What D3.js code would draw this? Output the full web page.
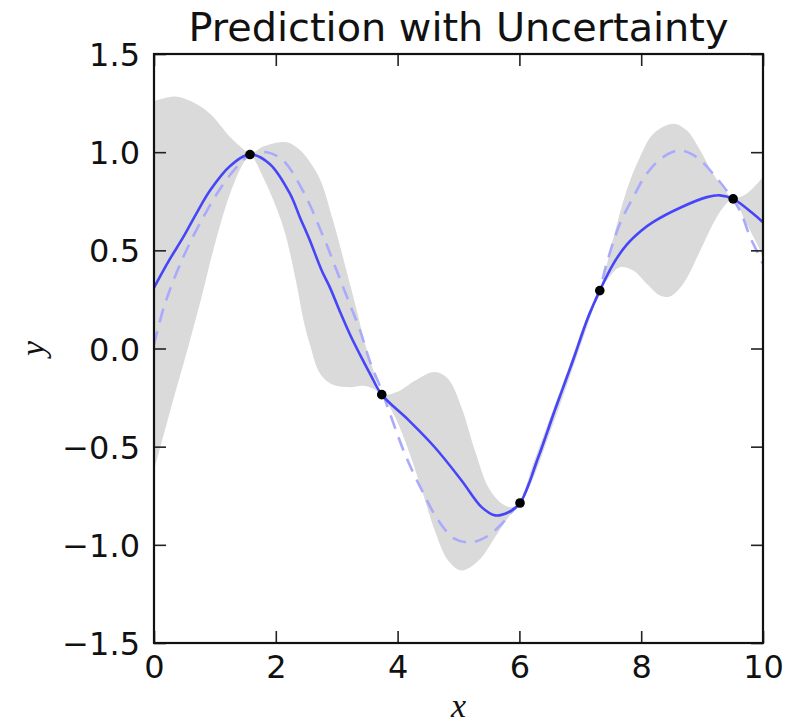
<!DOCTYPE html>
<html>
<head>
<meta charset="utf-8">
<script src="https://cdn.jsdelivr.net/npm/d3@7"></script>
<style>
  html, body { margin: 0; padding: 0; background: #ffffff; }
  svg { display: block; }
</style>
</head>
<body>
<svg id="chart" width="812" height="725"></svg>
<script>
// Observed samples
const obsX = [1.576, 3.74, 6.01, 7.32, 9.51];
const obsY = [0.988, -0.235, -0.787, 0.295, 0.762];

// Predicted mean
const meanX = [0.0, 0.25, 0.48, 0.7, 0.92, 1.25, 1.576, 1.9, 2.23, 2.4, 2.56, 2.75, 2.89, 3.05, 3.22, 3.38, 3.55, 3.74,
               4.18, 4.61, 5.05, 5.38, 5.6, 5.82, 6.01, 6.31, 6.58, 6.86, 7.13, 7.32, 7.54, 7.76,
               8.0, 8.2, 8.64, 9.08, 9.29, 9.51, 9.84, 10.0];
const meanY = [0.31, 0.45, 0.567, 0.69, 0.805, 0.93, 0.988, 0.94, 0.79, 0.665, 0.55, 0.40, 0.31, 0.19, 0.07, -0.03, -0.13, -0.235,
               -0.365, -0.503, -0.672, -0.808, -0.85, -0.834, -0.787, -0.554, -0.316, -0.078, 0.16, 0.295, 0.43, 0.528,
               0.6, 0.645, 0.717, 0.771, 0.78, 0.762, 0.686, 0.643];

// Underlying function
const trueX = [0.0, 0.18, 0.48, 0.81, 1.14, 1.41, 1.576, 1.85, 2.12, 2.45, 2.78, 3.0, 3.19, 3.38, 3.55, 3.74, 3.85,
               4.12, 4.4, 4.67, 4.94, 5.22, 5.49, 5.71, 5.88, 6.01, 6.31, 6.58, 6.86, 7.13, 7.32, 7.43,
               7.65, 7.87, 8.09, 8.36, 8.64, 8.91, 9.18, 9.4, 9.62, 9.79, 9.95, 10.0];
const trueY = [0.02, 0.228, 0.465, 0.669, 0.839, 0.941, 0.985, 1.0, 0.958, 0.80, 0.57, 0.397, 0.245, 0.095, -0.07, -0.215, -0.31,
               -0.537, -0.723, -0.876, -0.97, -0.987, -0.953, -0.893, -0.83, -0.787, -0.554, -0.316, -0.078, 0.16, 0.30, 0.43,
               0.635, 0.771, 0.89, 0.975, 1.009, 0.975, 0.89, 0.805, 0.703, 0.567, 0.465, 0.43];

// Confidence band, upper edge
const upperX = [0.0, 0.345, 0.6, 0.92, 1.25, 1.45, 1.576, 1.8, 2.18, 2.4, 2.56, 2.73, 2.94, 3.16, 3.33, 3.46, 3.6, 3.74,
                4.0, 4.29, 4.61, 4.83, 5.05, 5.27, 5.49, 5.71, 5.87, 6.01, 6.2, 6.5, 6.8, 7.1, 7.32,
                7.54, 7.76, 7.98, 8.2, 8.53, 8.75, 8.97, 9.18, 9.4, 9.51, 9.73, 10.0];
const upperY = [1.26, 1.284, 1.26, 1.196, 1.077, 1.02, 0.99, 1.03, 1.051, 1.01, 0.95, 0.86, 0.652, 0.397, 0.194, 0.03, -0.11, -0.232,
                -0.22, -0.163, -0.12, -0.155, -0.3, -0.52, -0.707, -0.79, -0.808, -0.782, -0.61, -0.355, -0.105, 0.155, 0.30,
                0.56, 0.805, 0.975, 1.094, 1.145, 1.11, 1.009, 0.89, 0.796, 0.765, 0.788, 0.873];

// Confidence band, lower edge
const lowerX = [0.0, 0.3, 0.59, 0.755, 1.03, 1.25, 1.46, 1.576, 1.79, 2.12, 2.34, 2.45, 2.56, 2.73, 2.94, 3.22, 3.44, 3.6, 3.74,
                3.96, 4.18, 4.4, 4.61, 4.83, 5.05, 5.33, 5.6, 5.82, 6.01, 6.2, 6.5, 6.8, 7.1, 7.32,
                7.43, 7.65, 7.87, 8.09, 8.31, 8.47, 8.69, 8.97, 9.18, 9.35, 9.51, 9.73, 9.95, 10.0];
const lowerY = [-0.62, -0.28, 0.04, 0.23, 0.567, 0.79, 0.94, 0.985, 0.873, 0.62, 0.33, 0.15, 0.02, -0.13, -0.185, -0.197, -0.19, -0.205, -0.238,
                -0.35, -0.52, -0.723, -0.927, -1.08, -1.131, -1.08, -0.961, -0.859, -0.792, -0.68, -0.43, -0.17, 0.10, 0.29,
                0.345, 0.414, 0.397, 0.33, 0.27, 0.265, 0.33, 0.499, 0.635, 0.72, 0.758, 0.635, 0.50, 0.45];

const xTicks = [0, 2, 4, 6, 8, 10];
const yTicks = [-1.5, -1.0, -0.5, 0.0, 0.5, 1.0, 1.5];

const svg = d3.select("#chart");
const plot = { left: 154, right: 763, top: 54, bottom: 643 };

const x = d3.scaleLinear().domain([0, 10]).range([plot.left, plot.right]);
const y = d3.scaleLinear().domain([-1.5, 1.5]).range([plot.bottom, plot.top]);

const zip = (xs, ys) => xs.map((v, i) => [v, ys[i]]);
const line = d3.line().x(d => x(d[0])).y(d => y(d[1])).curve(d3.curveCatmullRom.alpha(0.5));

svg.append("clipPath").attr("id", "plot-clip")
  .append("rect")
  .attr("x", plot.left).attr("y", plot.top)
  .attr("width", plot.right - plot.left).attr("height", plot.bottom - plot.top);

const g = svg.append("g").attr("clip-path", "url(#plot-clip)");

// Shaded band: upper edge left to right, then lower edge right to left
const upperPts = zip(upperX, upperY);
const lowerPts = zip(lowerX, lowerY).reverse();
const bandPath = line(upperPts) + "L" + line(lowerPts).slice(1) + "Z";
g.append("path")
  .attr("d", bandPath)
  .attr("fill", "#dadada")
  .attr("stroke", "none");

// Underlying function (dashed)
g.append("path")
  .attr("d", line(zip(trueX, trueY)))
  .attr("fill", "none")
  .attr("stroke", "#aaaafc")
  .attr("stroke-width", 2.6)
  .attr("stroke-dasharray", "14,9");

// Predicted mean
g.append("path")
  .attr("d", line(zip(meanX, meanY)))
  .attr("fill", "none")
  .attr("stroke", "#4646f8")
  .attr("stroke-width", 2.6);

// Observations
g.selectAll("circle.obs")
  .data(zip(obsX, obsY))
  .join("circle")
  .attr("class", "obs")
  .attr("cx", d => x(d[0]))
  .attr("cy", d => y(d[1]))
  .attr("r", 4.8)
  .attr("fill", "#000");

// Axes with inward ticks
const tickFont = "'DejaVu Sans', sans-serif";
const tickLen = 12;

const xAxis = d3.axisBottom(x).tickValues(xTicks).tickFormat(d3.format("d"))
  .tickSizeInner(-tickLen).tickSizeOuter(0).tickPadding(12);
const yAxis = d3.axisLeft(y).tickValues(yTicks).tickFormat(d3.format(".1f"))
  .tickSizeInner(-tickLen).tickSizeOuter(0).tickPadding(14);

const xg = svg.append("g").attr("transform", `translate(0,${plot.bottom})`).call(xAxis);
const yg = svg.append("g").attr("transform", `translate(${plot.left},0)`).call(yAxis);
const xtg = svg.append("g").attr("transform", `translate(0,${plot.top})`)
  .call(d3.axisTop(x).tickValues(xTicks).tickFormat("").tickSizeInner(-tickLen).tickSizeOuter(0));
const yrg = svg.append("g").attr("transform", `translate(${plot.right},0)`)
  .call(d3.axisRight(y).tickValues(yTicks).tickFormat("").tickSizeInner(-tickLen).tickSizeOuter(0));

[xg, yg, xtg, yrg].forEach(a => {
  a.select(".domain").remove();
  a.selectAll(".tick line").attr("stroke", "#222").attr("stroke-width", 1.6);
  a.selectAll(".tick text")
    .attr("fill", "#111")
    .style("font-family", tickFont)
    .style("font-size", "32px");
});
yg.selectAll(".tick text").attr("dy", "0.36em");

// Frame
svg.append("rect")
  .attr("x", plot.left).attr("y", plot.top)
  .attr("width", plot.right - plot.left).attr("height", plot.bottom - plot.top)
  .attr("fill", "none")
  .attr("stroke", "#111")
  .attr("stroke-width", 2.2);

// Title
svg.append("text")
  .attr("x", (plot.left + plot.right) / 2)
  .attr("y", 41)
  .attr("text-anchor", "middle")
  .style("font-family", tickFont)
  .style("font-size", "39.8px")
  .attr("fill", "#111")
  .text("Prediction with Uncertainty");

// Axis labels
svg.append("text")
  .attr("x", (plot.left + plot.right) / 2)
  .attr("y", 717)
  .attr("text-anchor", "middle")
  .style("font-family", "'Liberation Serif', 'DejaVu Serif', serif")
  .style("font-style", "italic")
  .style("font-size", "34px")
  .attr("fill", "#111")
  .text("x");

svg.append("text")
  .attr("transform", `translate(44,${(plot.top + plot.bottom) / 2}) rotate(-90)`)
  .attr("text-anchor", "middle")
  .style("font-family", "'Liberation Serif', 'DejaVu Serif', serif")
  .style("font-style", "italic")
  .style("font-size", "34px")
  .attr("fill", "#111")
  .text("y");
</script>
</body>
</html>
